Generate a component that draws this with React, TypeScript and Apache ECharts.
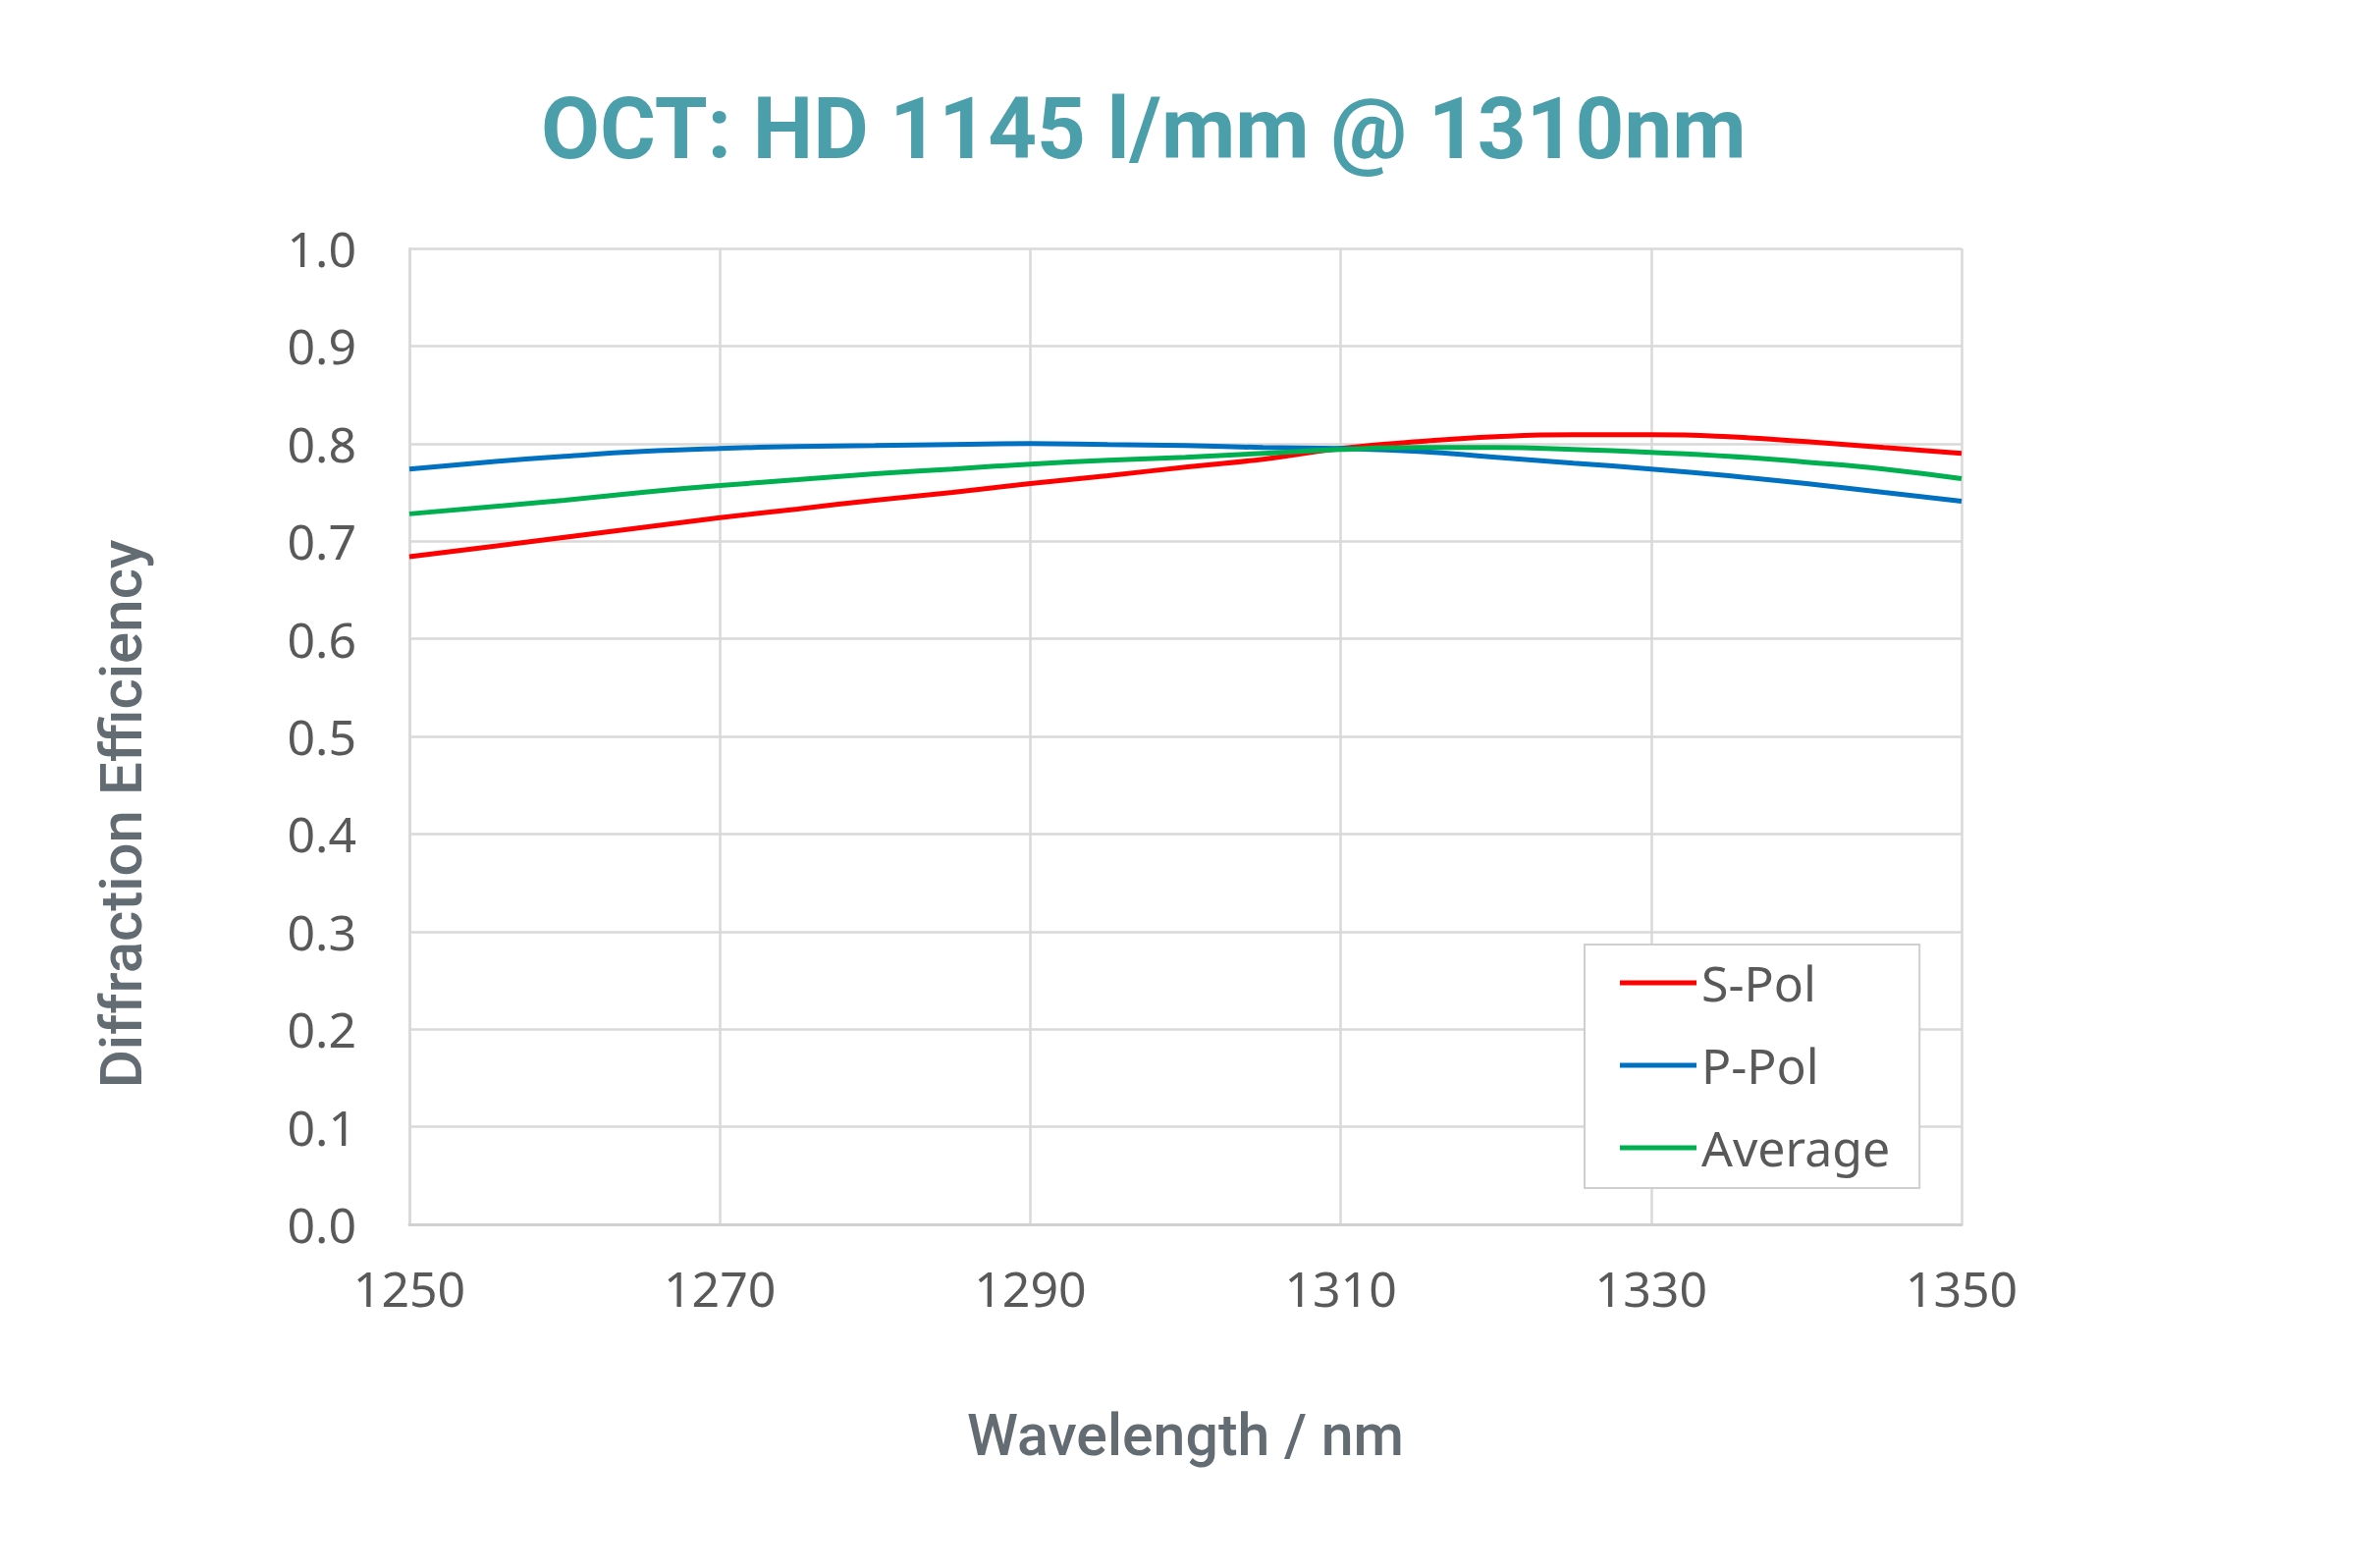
import React, { useEffect, useRef } from "react";
import * as echarts from "echarts";

const wavelengths = [1250, 1255, 1260, 1265, 1270, 1275, 1280, 1285, 1290, 1295, 1300, 1305, 1310, 1315, 1320, 1325, 1330, 1335, 1340, 1345, 1350];
const sPol = [0.684, 0.694, 0.704, 0.714, 0.724, 0.733, 0.742, 0.75, 0.759, 0.767, 0.776, 0.784, 0.795, 0.802, 0.807, 0.809, 0.809, 0.807, 0.802, 0.796, 0.79];
const pPol = [0.774, 0.781, 0.787, 0.792, 0.795, 0.797, 0.798, 0.799, 0.8, 0.799, 0.798, 0.796, 0.795, 0.792, 0.786, 0.78, 0.774, 0.767, 0.759, 0.75, 0.741];
const average = [0.728, 0.735, 0.742, 0.75, 0.757, 0.763, 0.769, 0.774, 0.779, 0.783, 0.786, 0.79, 0.794, 0.796, 0.796, 0.794, 0.791, 0.787, 0.781, 0.774, 0.764];
const seriesNames = ["S-Pol", "P-Pol", "Average"];
const seriesColors = ["#ff0000", "#0070c0", "#00b050"];
const titleText = "OCT: HD 1145 l/mm @ 1310nm";
const xName = "Wavelength / nm";
const yName = "Diffraction Efficiency";

export default function App() {
  const ref = useRef<HTMLDivElement>(null);
  useEffect(() => {
    if (!ref.current) return;
    const chart = echarts.init(ref.current, null, { renderer: "svg" });
    const values = [sPol, pPol, average];
    chart.setOption({
      animation: false,
      backgroundColor: "#ffffff",
      title: {
        text: titleText,
        left: 551,
        top: 87,
        padding: 0,
        textStyle: { fontFamily: "Roboto", fontWeight: "bold", fontSize: 87, color: "#4a9fab" },
      },
      grid: { left: 417, top: 253, width: 1581, height: 994, containLabel: false },
      legend: {
        orient: "vertical",
        left: 1614,
        top: 962,
        padding: [14, 30, 16, 36],
        itemWidth: 78,
        itemHeight: 5,
        itemGap: 34,
        icon: "rect",
        backgroundColor: "#ffffff",
        borderColor: "#cfcfcf",
        borderWidth: 2,
        textStyle: { fontFamily: "Noto Sans", fontSize: 50, color: "#595959", lineHeight: 50 },
        data: seriesNames,
      },
      xAxis: {
        type: "value",
        min: 1250,
        max: 1350,
        interval: 20,
        name: xName,
        nameLocation: "middle",
        nameGap: 185,
        nameTextStyle: { fontFamily: "Roboto", fontWeight: 500, fontSize: 59, color: "#646c73" },
        axisLine: { show: true, lineStyle: { color: "#d0d0d0", width: 3 } },
        axisTick: { show: false },
        axisLabel: {
          fontFamily: "Noto Sans",
          fontSize: 50,
          color: "#595959",
          margin: 40,
          formatter: (v: number) => String(v),
        },
        splitLine: { show: true, lineStyle: { color: "#d9d9d9", width: 2.5 } },
      },
      yAxis: {
        type: "value",
        min: 0,
        max: 1,
        interval: 0.1,
        name: yName,
        nameLocation: "middle",
        nameGap: 264,
        nameTextStyle: { fontFamily: "Roboto", fontWeight: 500, fontSize: 60, color: "#646c73", padding: [0, 158, 0, 0] },
        axisLine: { show: true, lineStyle: { color: "#d9d9d9", width: 2.5 } },
        axisTick: { show: false },
        axisLabel: {
          fontFamily: "Noto Sans",
          fontSize: 50,
          color: "#595959",
          margin: 54,
          formatter: (v: number) => v.toFixed(1),
        },
        splitLine: { show: true, lineStyle: { color: "#d9d9d9", width: 2.5 } },
      },
      series: seriesNames.map((name, i) => ({
        name,
        type: "line",
        smooth: true,
        showSymbol: false,
        color: seriesColors[i],
        lineStyle: { width: 5, color: seriesColors[i] },
        data: wavelengths.map((w, j) => [w, values[i][j]]),
      })),
    });
    return () => chart.dispose();
  }, []);
  return (
    <div
      ref={ref}
      style={{ position: "absolute", left: 0, top: 0, width: 2412, height: 1597 }}
    />
  );
}
